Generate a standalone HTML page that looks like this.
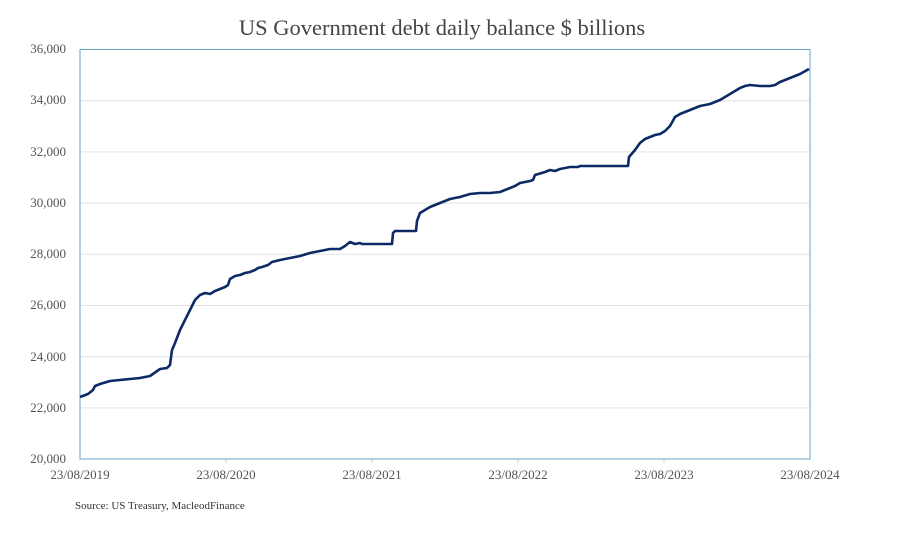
<!DOCTYPE html>
<html><head><meta charset="utf-8"><style>
html,body{margin:0;padding:0;background:#fff;}
</style></head><body>
<svg width="900" height="531" viewBox="0 0 900 531" xmlns="http://www.w3.org/2000/svg" font-family="Liberation Serif, serif">
<rect width="900" height="531" fill="#fff"/>
<text x="442" y="35" font-size="22.5" fill="#444" text-anchor="middle">US Government debt daily balance $ billions</text>
<g stroke="#e4e4e4" stroke-width="1">
<line x1="80" x2="810" y1="100.7" y2="100.7"/>
<line x1="80" x2="810" y1="151.9" y2="151.9"/>
<line x1="80" x2="810" y1="203.1" y2="203.1"/>
<line x1="80" x2="810" y1="254.3" y2="254.3"/>
<line x1="80" x2="810" y1="305.5" y2="305.5"/>
<line x1="80" x2="810" y1="356.7" y2="356.7"/>
<line x1="80" x2="810" y1="407.9" y2="407.9"/>
</g>
<line x1="80" x2="810" y1="459" y2="459" stroke="#d0d0d0" stroke-width="1"/>
<g stroke="#d0d0d0"><line x1="226" x2="226" y1="459" y2="463"/><line x1="372" x2="372" y1="459" y2="463"/><line x1="518" x2="518" y1="459" y2="463"/><line x1="664" x2="664" y1="459" y2="463"/></g>
<rect x="80" y="49.5" width="730" height="409.5" fill="none" stroke="#6aa6c6" stroke-width="1"/>
<g font-size="13" fill="#555" text-anchor="end">
<text x="66" y="53">36,000</text><text x="66" y="104">34,000</text><text x="66" y="156">32,000</text><text x="66" y="207">30,000</text><text x="66" y="258">28,000</text><text x="66" y="309">26,000</text><text x="66" y="361">24,000</text><text x="66" y="412">22,000</text><text x="66" y="463">20,000</text>
</g>
<g font-size="13" fill="#555" text-anchor="middle">
<text x="80" y="479">23/08/2019</text><text x="226" y="479">23/08/2020</text><text x="372" y="479">23/08/2021</text><text x="518" y="479">23/08/2022</text><text x="664" y="479">23/08/2023</text><text x="810" y="479">23/08/2024</text>
</g>
<text x="75" y="509" font-size="11" fill="#333">Source: US Treasury, MacleodFinance</text>
<polyline fill="none" stroke="#0d2a66" stroke-width="2.6" stroke-linejoin="round" points="80,397 88,394 93,390 95,386 100,384 110,381 120,380 130,379 140,378 150,376 160,369 167,368 170,365 172,350 175,343 180,330 185,320 190,310 195,300 200,295 205,293 210,294 215,291 220,289 225,287 228,285 230,279 235,276 240,275 245,273 250,272 255,270 258,268 262,267 268,265 272,262 280,260 290,258 300,256 310,253 320,251 330,249 340,249 345,246 350,242 355,244 360,243 362,244 392,244 393,233 395,231 416,231 417,221 420,213 425,210 430,207 440,203 450,199 460,197 470,194 480,193 490,193 500,192 505,190 510,188 515,186 520,183 530,181 533,180 535,175 545,172 550,170 555,171 560,169 565,168 570,167 578,167 580,166 628,166 629,157 635,150 640,143 645,139 650,137 655,135 660,134 665,131 670,126 675,117 680,114 690,110 700,106 710,104 720,100 730,94 740,88 745,86 750,85 760,86 770,86 775,85 780,82 790,78 800,74 809,69"/>
</svg>
</body></html>
